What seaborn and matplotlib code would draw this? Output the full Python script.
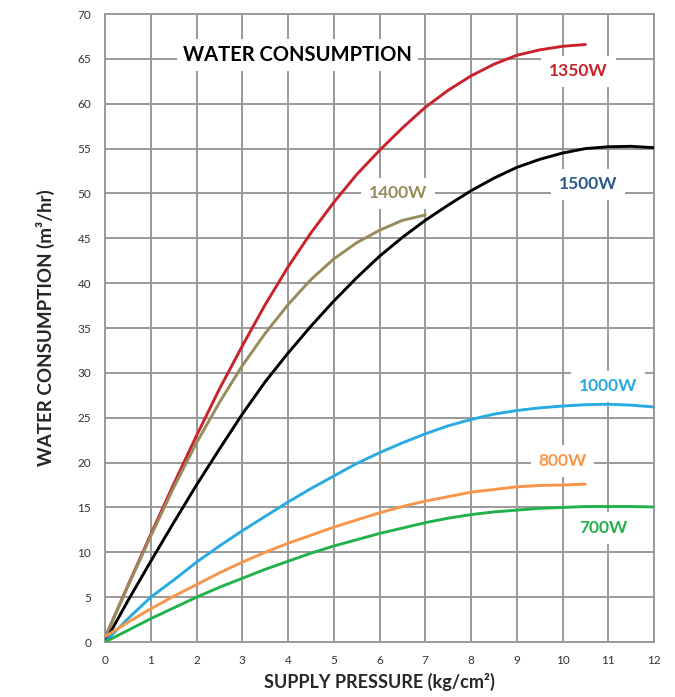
import numpy as np
import pandas as pd
import seaborn as sns
import matplotlib.pyplot as plt

# values (pressure kg/cm2 -> consumption m3/hr)
p_1350 = [0, 0.5, 1, 1.5, 2, 2.5, 3, 3.5, 4, 4.5, 5, 5.5, 6, 6.5, 7, 7.5, 8, 8.5, 9, 9.5, 10, 10.5]
w_1350 = [0.5, 6.3, 12.0, 17.6, 23.0, 28.2, 33.0, 37.6, 41.8, 45.6, 49.0, 52.1, 54.8, 57.3, 59.6,
          61.5, 63.1, 64.4, 65.4, 66.0, 66.4, 66.6]

p_1400 = [0, 0.5, 1, 1.5, 2, 2.5, 3, 3.5, 4, 4.5, 5, 5.5, 6, 6.5, 7]
w_1400 = [0.5, 6.2, 11.8, 17.2, 22.2, 26.7, 30.8, 34.4, 37.6, 40.4, 42.7, 44.5, 45.9, 47.0, 47.6]

p_1500 = [0, 0.5, 1, 1.5, 2, 2.5, 3, 3.5, 4, 4.5, 5, 5.5, 6, 6.5, 7, 7.5, 8, 8.5, 9, 9.5, 10,
          10.5, 11, 11.5, 12]
w_1500 = [0, 4.6, 9.0, 13.3, 17.5, 21.5, 25.4, 29.0, 32.2, 35.2, 38.0, 40.6, 43.0, 45.1, 47.0,
          48.7, 50.3, 51.7, 52.9, 53.8, 54.5, 55.0, 55.2, 55.25, 55.1]

p_1000 = [0, 0.5, 1, 1.5, 2, 2.5, 3, 3.5, 4, 4.5, 5, 5.5, 6, 6.5, 7, 7.5, 8, 8.5, 9, 9.5, 10,
          10.5, 11, 11.5, 12]
w_1000 = [0, 2.6, 5.0, 6.9, 8.9, 10.7, 12.4, 14.0, 15.6, 17.1, 18.5, 19.9, 21.1, 22.2, 23.2,
          24.1, 24.8, 25.4, 25.8, 26.1, 26.3, 26.45, 26.5, 26.4, 26.2]

p_800 = [0, 0.5, 1, 1.5, 2, 2.5, 3, 3.5, 4, 4.5, 5, 5.5, 6, 6.5, 7, 7.5, 8, 8.5, 9, 9.5, 10, 10.5]
w_800 = [0.6, 2.2, 3.7, 5.1, 6.4, 7.7, 8.9, 10.0, 11.0, 11.9, 12.8, 13.6, 14.4, 15.1, 15.7,
         16.2, 16.7, 17.0, 17.3, 17.45, 17.5, 17.6]

p_700 = [0, 0.5, 1, 1.5, 2, 2.5, 3, 3.5, 4, 4.5, 5, 5.5, 6, 6.5, 7, 7.5, 8, 8.5, 9, 9.5, 10,
         10.5, 11, 11.5, 12]
w_700 = [0, 1.3, 2.6, 3.8, 5.0, 6.1, 7.1, 8.1, 9.0, 9.9, 10.7, 11.4, 12.1, 12.7, 13.3,
         13.8, 14.2, 14.5, 14.7, 14.9, 15.0, 15.1, 15.1, 15.1, 15.05]

series = ["1350W", "1400W", "1500W", "1000W", "800W", "700W"]
colors = ["#c8232c", "#978c5c", "#000000", "#29abe2", "#f7964b", "#22b14c"]
label_colors = ["#c8232c", "#978c5c", "#2a5a8c", "#29abe2", "#f7964b", "#22b14c"]
label_pos = [(10.35, 63.6), (6.4, 50.0), (10.56, 51.0), (11.0, 28.5), (10.0, 20.2), (10.9, 12.7)]

frames = []
for name, p, w in zip(series,
                      [p_1350, p_1400, p_1500, p_1000, p_800, p_700],
                      [w_1350, w_1400, w_1500, w_1000, w_800, w_700]):
    frames.append(pd.DataFrame({"pressure": p, "water": w, "power": name}))
df = pd.concat(frames, ignore_index=True)

sns.set_style("white")
plt.rcParams["font.family"] = ["Lato", "DejaVu Sans"]

fig = plt.figure(figsize=(6.75, 6.97), dpi=100)
ax = fig.add_axes([0.1556, 0.0789, 0.8133, 0.901])

grid_c = "#9a9a9a"
for x in range(0, 13):
    ax.axvline(x, color=grid_c, lw=1.4, zorder=1)
for y in range(0, 71, 5):
    ax.axhline(y, color=grid_c, lw=1.4, zorder=1)

sns.lineplot(data=df, x="pressure", y="water", hue="power", hue_order=series,
             palette=dict(zip(series, colors)), linewidth=2.1, legend=False,
             sort=False, ax=ax, zorder=3)
for line in ax.get_lines():
    line.set_solid_joinstyle("round")

for name, c, (lx, ly) in zip(series, label_colors, label_pos):
    ax.text(lx, ly, name, color=c, fontsize=12.5, fontweight="bold",
            ha="center", va="center", zorder=4,
            bbox=dict(boxstyle="square,pad=0.45", fc="white", ec="none"))

ax.text(4.2, 65.4, "WATER CONSUMPTION", color="black", fontsize=14.5, fontweight="bold",
        ha="center", va="center", zorder=4,
        bbox=dict(boxstyle="square,pad=0.3", fc="white", ec="none"))

ax.set_xlim(0, 12)
ax.set_ylim(0, 70)
ax.set_xticks(range(0, 13))
ax.set_yticks(range(0, 71, 5))
ax.tick_params(axis="y", length=4, color=grid_c, width=1.2, labelsize=8.5, labelcolor="#333333", pad=6)
ax.tick_params(axis="x", length=0, labelsize=8.5, labelcolor="#333333", pad=9)
for s in ax.spines.values():
    s.set_color(grid_c)
    s.set_linewidth(1.4)

ax.set_xlabel("SUPPLY PRESSURE (kg/cm²)", fontsize=13, fontweight="bold", labelpad=5)
ax.set_ylabel("WATER CONSUMPTION (m³/hr)", fontsize=13.5, fontweight="bold", labelpad=16)

fig.savefig("out.png", dpi=100)
